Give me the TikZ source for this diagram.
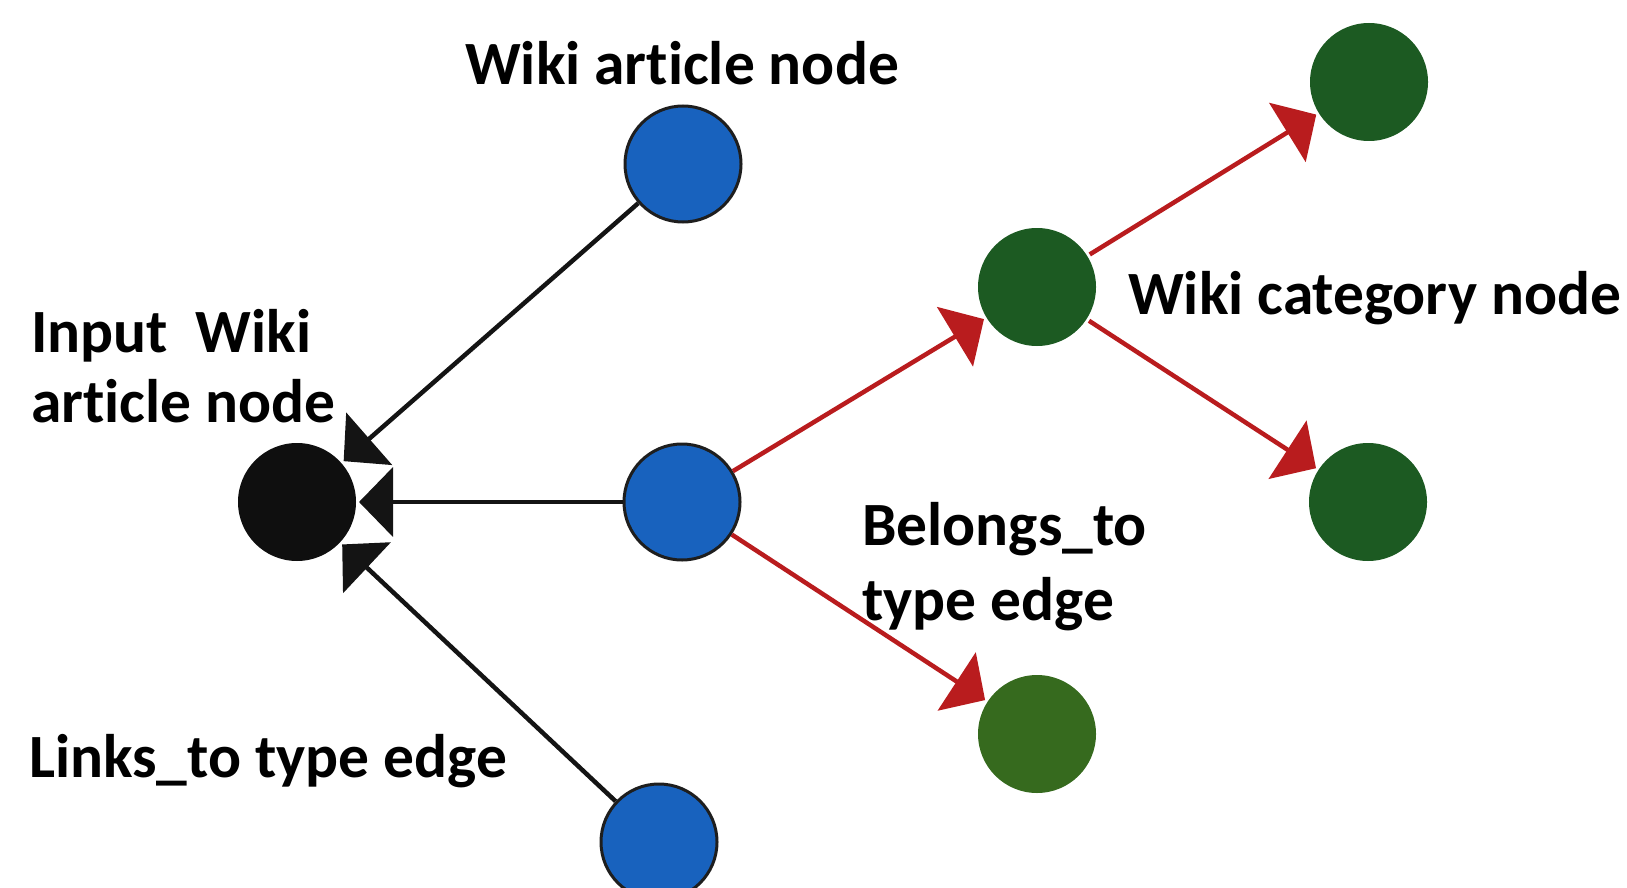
\documentclass[tikz,border=0pt]{standalone}
\usepackage{fontspec}
\setmainfont[Ligatures=NoCommon]{Carlito}
\usetikzlibrary{arrows.meta}

\definecolor{artblue}{RGB}{24,98,190}
\definecolor{catgreen}{RGB}{28,90,34}
\definecolor{leafgreen}{RGB}{54,106,30}
\definecolor{inputblack}{RGB}{15,15,15}
\definecolor{edgered}{RGB}{185,28,30}
\definecolor{rimgray}{RGB}{30,30,30}

\tikzset{
  vertex/.style={circle, inner sep=0pt, minimum size=118pt, outer sep=3pt},
  article/.style={vertex, fill=artblue, draw=rimgray, line width=3pt, minimum size=116pt, outer sep=1.5pt},
  category/.style={vertex, fill=catgreen},
  leafcat/.style={vertex, fill=leafgreen},
  inputnode/.style={vertex, fill=inputblack},
  linksto/.style={draw=black!92, line width=4.5pt, -{Triangle[length=34pt,width=69pt]}},
  belongsto/.style={draw=edgered, line width=4.5pt, -{Triangle[length=34pt,width=69pt]}},
  caption/.style={anchor=base west, inner sep=0pt, font=\fontsize{61.5}{72}\selectfont\bfseries}
}

\begin{document}
\begin{tikzpicture}[x=1pt, y=-1pt]
  \useasboundingbox (0,0) rectangle (1627,888);

  % nodes
  \node[inputnode] (input) at (297,502) {};
  \node[article] (artTop) at (683,164) {};
  \node[article] (artMid) at (682,502) {};
  \node[article] (artBot) at (659,842) {};
  \node[category] (catMid) at (1037,287) {};
  \node[leafcat]  (catLow) at (1037,734) {};
  \node[category] (catTop) at (1369,82) {};
  \node[category] (catRight) at (1368,502) {};

  % links_to edges
  \draw[linksto] (artTop) -- (input);
  \draw[linksto] (artMid) -- (input);
  \draw[linksto] (artBot) -- (input);

  % belongs_to edges
  \draw[belongsto] (artMid) -- (catMid);
  \draw[belongsto] (artMid) -- (catLow);
  \draw[belongsto] (catMid) -- (catTop);
  \draw[belongsto] (catMid) -- (catRight);

  % captions
  \node[caption] (capArticle) at (465,85) {Wiki article node};
  \node[caption] (capInputA) at (31,352) {Input\ \ Wiki};
  \node[caption] (capInputB) at (31,422) {article node};
  \node[caption] (capLinks) at (29,777) {Links\_to type edge};
  \node[caption] (capCategory) at (1128,314) {Wiki category node};
  \node[caption] (capBelongsA) at (862,545) {Belongs\_to};
  \node[caption] (capBelongsB) at (862,620) {type edge};
\end{tikzpicture}
\end{document}
